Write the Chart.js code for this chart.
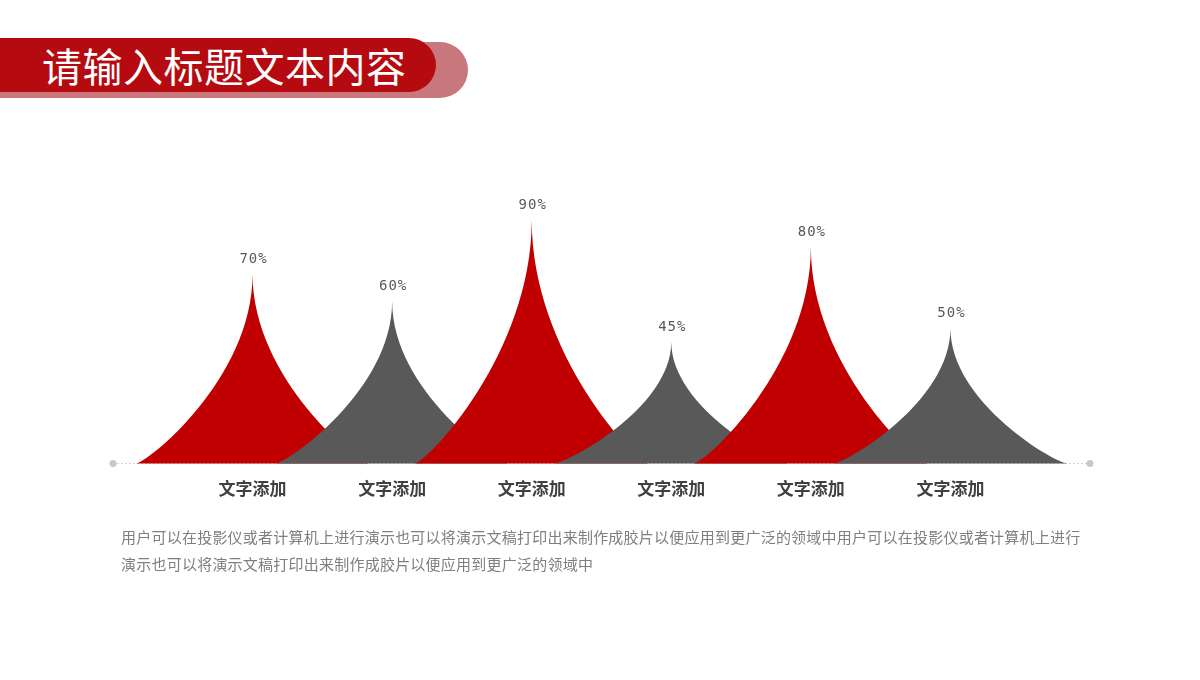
<!DOCTYPE html>
<html>
<head>
<meta charset="utf-8">
<script src="https://cdn.jsdelivr.net/npm/chart.js@4.4.0/dist/chart.umd.min.js"></script>
<style>
  body { margin: 0; width: 1200px; height: 680px; background: #fff; position: relative; overflow: hidden; font-family: "Noto Sans CJK SC", sans-serif; }
  #myChart { position: absolute; left: 0; top: 0; }
  .bar-back { position: absolute; left: -30px; top: 42px; width: 498px; height: 56px; background: #c8787d; border-radius: 0 28px 28px 0; }
  .bar-front { position: absolute; left: -30px; top: 38px; width: 466px; height: 54px; background: #b50a10; border-radius: 0 27px 27px 0; }
  .title { position: absolute; left: 42px; top: 38px; height: 54px; line-height: 54px; color: #fff; font-size: 40px; letter-spacing: 0.5px; }
  .desc { position: absolute; left: 121px; top: 523px; width: 970px; font-size: 15px; letter-spacing: 0.23px; line-height: 27px; color: #7f7f7f; }
</style>
</head>
<body>
<div class="bar-back"></div>
<div class="bar-front"></div>
<div class="title">请输入标题文本内容</div>
<canvas id="myChart" width="1200" height="680"></canvas>
<div class="desc">用户可以在投影仪或者计算机上进行演示也可以将演示文稿打印出来制作成胶片以便应用到更广泛的领域中用户可以在投影仪或者计算机上进行演示也可以将演示文稿打印出来制作成胶片以便应用到更广泛的领域中</div>
<script>
var categories = ['文字添加', '文字添加', '文字添加', '文字添加', '文字添加', '文字添加'];
var values = [70, 60, 90, 45, 80, 50];

var peakColors = ['#c00000', '#595959'];
var halfWidth = 0.84; // in category units

// draws the tent shaped peaks from the dataset points
var peaksPlugin = {
    id: 'peaks',
    beforeDatasetsDraw: function (chart) {
        var ctx = chart.ctx;
        var xs = chart.scales.x, ys = chart.scales.y;
        var base = ys.getPixelForValue(0);
        var left = xs.getPixelForValue(xs.min), right = xs.getPixelForValue(xs.max);
        ctx.save();
        ctx.strokeStyle = '#cfcfcf';
        ctx.lineWidth = 1;
        ctx.setLineDash([2, 2]);
        ctx.beginPath();
        ctx.moveTo(left, base);
        ctx.lineTo(right, base);
        ctx.stroke();
        ctx.setLineDash([]);
        ctx.fillStyle = '#c8c8c8';
        [left, right].forEach(function (x) {
            ctx.beginPath();
            ctx.arc(x, base, 3.5, 0, Math.PI * 2);
            ctx.fill();
        });
        ctx.restore();
    },
    afterDatasetsDraw: function (chart) {
        var ctx = chart.ctx;
        var xs = chart.scales.x, ys = chart.scales.y;
        var base = ys.getPixelForValue(0);
        var meta = chart.getDatasetMeta(0);
        ctx.save();
        meta.data.forEach(function (pt, i) {
            var x = pt.x, top = pt.y;
            var hw = xs.getPixelForValue(i + 1 + halfWidth) - x;
            var h = base - top;
            ctx.fillStyle = peakColors[i % 2];
            ctx.beginPath();
            ctx.moveTo(x - hw, base);
            ctx.bezierCurveTo(x - hw * 0.9, base, x, base - h * 0.45, x, top);
            ctx.bezierCurveTo(x, base - h * 0.45, x + hw * 0.9, base, x + hw, base);
            ctx.closePath();
            ctx.fill();
        });
        ctx.fillStyle = '#595959';
        ctx.font = '14px "DejaVu Sans Mono", monospace';
        ctx.letterSpacing = '1px';
        ctx.textAlign = 'center';
        ctx.textBaseline = 'alphabetic';
        meta.data.forEach(function (pt, i) {
            ctx.fillText(values[i] + '%', pt.x + 1, pt.y - 11);
        });
        ctx.restore();
    }
};

var ctx = document.getElementById('myChart').getContext('2d');
var chart = new Chart(ctx, {
    type: 'line',
    data: {
        datasets: [{
            data: values.map(function (v, i) { return { x: i + 1, y: v }; }),
            showLine: false,
            pointRadius: 0,
            pointHoverRadius: 0
        }]
    },
    plugins: [peaksPlugin],
    options: {
        responsive: false,
        animation: false,
        layout: { padding: { left: 113, right: 110, top: 193, bottom: 166 } },
        plugins: { legend: { display: false }, tooltip: { enabled: false } },
        scales: {
            x: {
                type: 'linear',
                min: 0,
                max: 7,
                grid: { display: false, drawTicks: false },
                border: { display: false },
                afterBuildTicks: function (scale) {
                    scale.ticks = categories.map(function (c, i) { return { value: i + 1 }; });
                },
                ticks: {
                    padding: 15,
                    color: '#404040',
                    font: { family: '"Noto Sans CJK SC"', size: 17, weight: 'bold' },
                    callback: function (v) { return categories[v - 1]; }
                }
            },
            y: {
                display: false,
                min: 0,
                max: 100
            }
        }
    }
});
</script>
</body>
</html>
